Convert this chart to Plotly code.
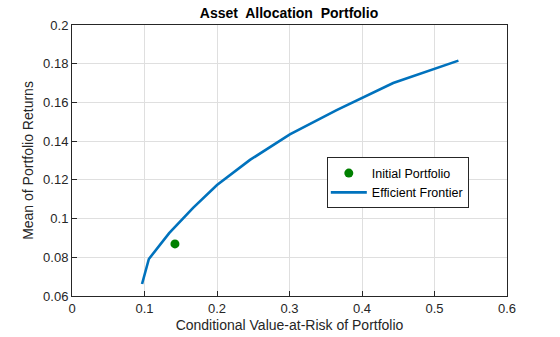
import plotly.graph_objects as go

frontier_risk = [0.0966, 0.106, 0.134, 0.167, 0.200, 0.2455, 0.3005, 0.365, 0.443, 0.533]
frontier_ret = [0.0662, 0.0791, 0.0925, 0.1055, 0.1173, 0.1303, 0.1435, 0.1560, 0.1700, 0.1816]
initial_risk = [0.142]
initial_ret = [0.0869]

x_ticks = [0, 0.1, 0.2, 0.3, 0.4, 0.5, 0.6]
x_labels = ["0", "0.1", "0.2", "0.3", "0.4", "0.5", "0.6"]
y_ticks = [0.06, 0.08, 0.1, 0.12, 0.14, 0.16, 0.18, 0.2]
y_labels = ["0.06", "0.08", "0.1", "0.12", "0.14", "0.16", "0.18", "0.2"]

font = "Liberation Sans, Arial, sans-serif"
axcol = "#262626"

fig = go.Figure()
fig.add_trace(go.Scatter(x=initial_risk, y=initial_ret, mode="markers",
                         marker=dict(color="#008000", size=9),
                         name="Initial Portfolio"))
fig.add_trace(go.Scatter(x=frontier_risk, y=frontier_ret, mode="lines",
                         line=dict(color="#0072BD", width=2.6),
                         name="Efficient Frontier"))

axis_common = dict(showgrid=True, gridcolor="#dfdfdf", gridwidth=1,
                   showline=True, linecolor=axcol, linewidth=1, mirror=True,
                   ticks="inside", ticklen=5, tickcolor=axcol, zeroline=False,
                   automargin=False,
                   tickfont=dict(family=font, size=13, color=axcol))

fig.update_layout(
    width=560, height=337,
    margin=dict(l=72, r=53, t=25, b=41),
    paper_bgcolor="white", plot_bgcolor="white",
    title=dict(text="<b>Asset  Allocation  Portfolio</b>", x=0.5161, xanchor="center",
               y=0.962, yanchor="middle",
               font=dict(family=font, size=14, color="black")),
    xaxis=dict(range=[0, 0.6], tickvals=x_ticks, ticktext=x_labels,
               title=dict(text="Conditional Value-at-Risk of Portfolio", standoff=5,
                          font=dict(family=font, size=14, color=axcol)),
               **axis_common),
    yaxis=dict(range=[0.06, 0.2], tickvals=y_ticks, ticktext=y_labels,
               title=dict(text="Mean of Portfolio Returns", standoff=6,
                          font=dict(family=font, size=14, color=axcol)),
               **axis_common),
    legend=dict(x=0.749, y=0.417, xanchor="center", yanchor="middle",
                bgcolor="white", bordercolor=axcol, borderwidth=1,
                font=dict(family=font, size=12.5, color="black"),
                tracegroupgap=0, itemwidth=36, indentation=-2),
    showlegend=True,
)

fig.write_html("out.html")
